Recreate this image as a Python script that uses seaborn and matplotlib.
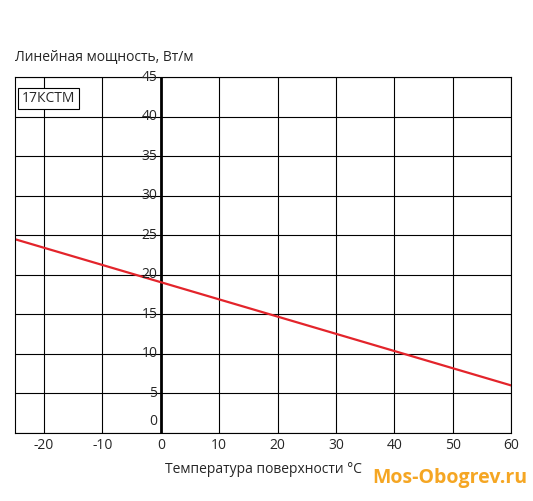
import matplotlib
matplotlib.use("Agg")
import matplotlib.pyplot as plt
import seaborn as sns
import pandas as pd

temps = [-25, 60]
power = [24.5, 6.0]
x_ticks = [-20, -10, 0, 10, 20, 30, 40, 50, 60]
y_ticks = [0, 5, 10, 15, 20, 25, 30, 35, 40, 45]

sns.set_style("white")
plt.rcParams['font.family'] = ['Open Sans', 'DejaVu Sans']

fig = plt.figure(figsize=(5.33, 5.01), dpi=100)
ax = fig.add_axes([0.028, 0.136, 0.931, 0.71])
df = pd.DataFrame({"t": temps, "p": power})
sns.lineplot(data=df, x="t", y="p", color="#e3242b", lw=1.6, ax=ax)
ax.set_xlim(-25, 60)
ax.set_ylim(0, 45)
for x in x_ticks:
    if x != 0:
        ax.axvline(x, color="black", lw=0.8, zorder=0)
for y in y_ticks:
    ax.axhline(y, color="black", lw=0.8, zorder=0)
ax.axvline(0, color="black", lw=2, zorder=1)
for s in ax.spines.values():
    s.set_color("black"); s.set_linewidth(0.8)
ax.set_yticks([])
ax.set_xticks(x_ticks)
ax.set_xticklabels([str(v) for v in x_ticks], fontsize=10)
ax.tick_params(axis='x', length=0, pad=4)
for y in y_ticks:
    ax.text(-0.6, y + (0.5 if y == 0 else 0), str(y), ha="right",
            va="bottom" if y == 0 else "center", fontsize=10)
ax.set_xlabel("Температура поверхности °С", fontsize=10, labelpad=6)
ax.set_ylabel("")
fig.text(0.028, 0.885, "Линейная мощность, Вт/м", fontsize=10, va="center")
ax.text(-23.8, 42.3, "17КСТМ", fontsize=10, va="center",
        bbox=dict(boxstyle="square,pad=0.25", fc="white", ec="black", lw=0.8))
fig.text(0.99, 0.045, "Mos-Obogrev.ru", color="#f5a623", fontsize=14,
         fontweight="bold", ha="right", va="center")
fig.savefig("out.png", dpi=100)
